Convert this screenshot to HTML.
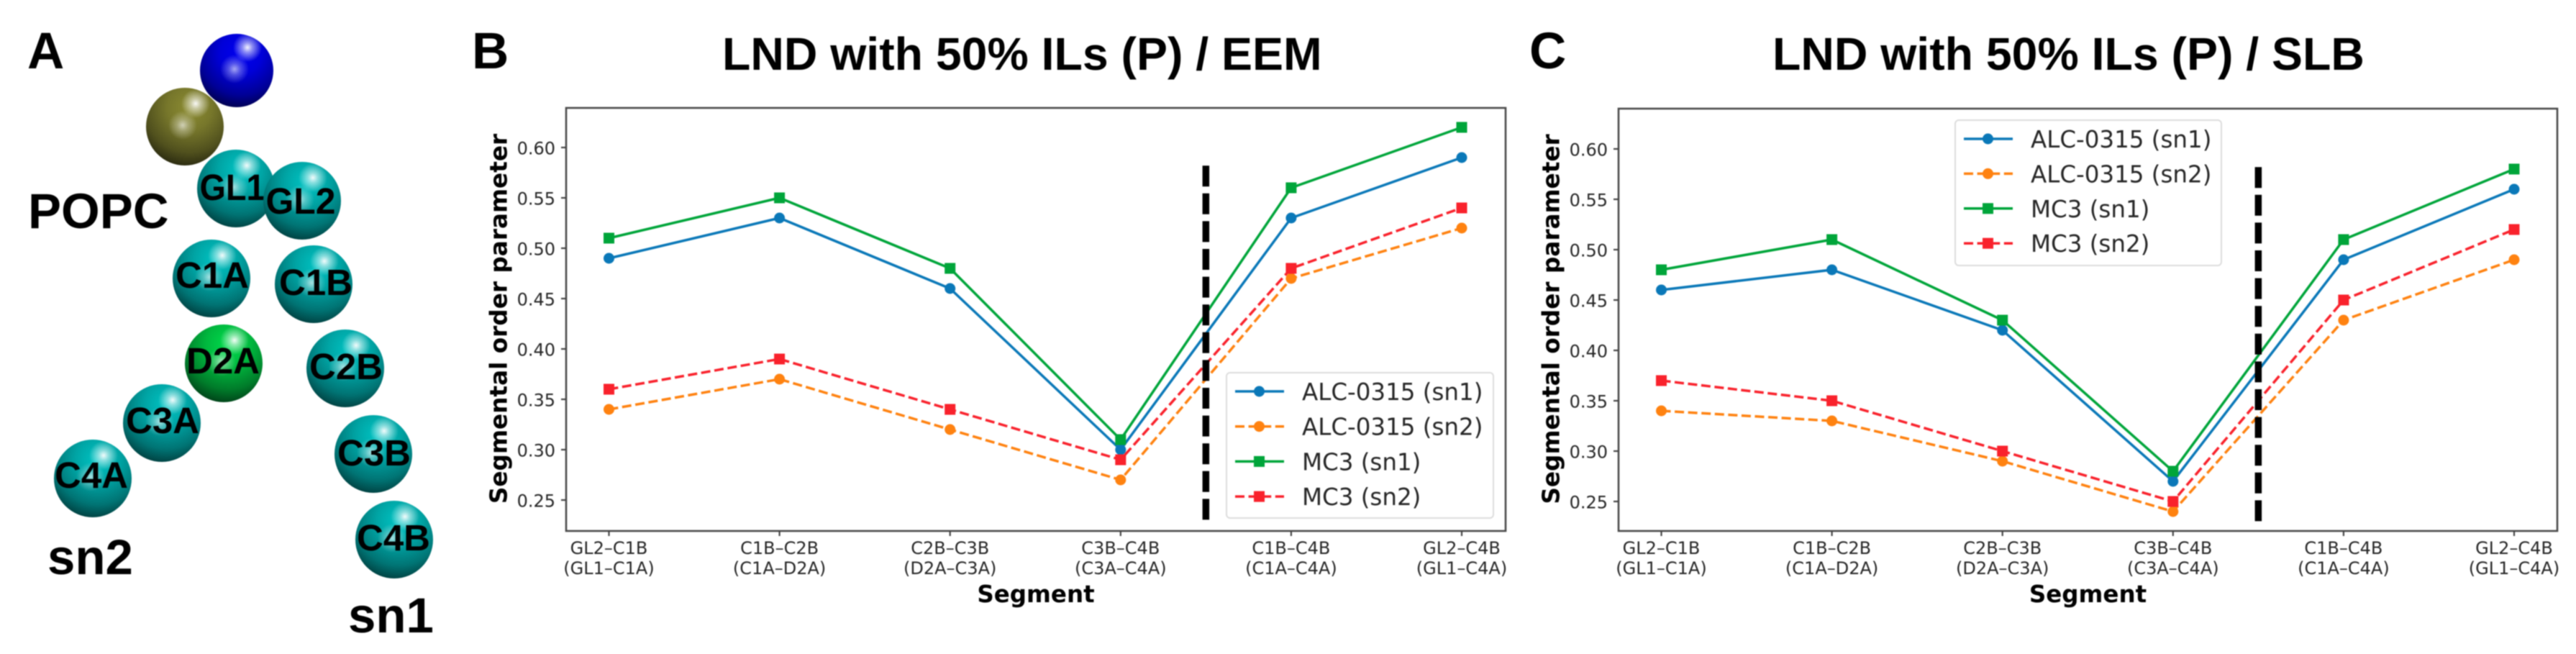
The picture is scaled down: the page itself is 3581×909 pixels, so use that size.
<!DOCTYPE html>
<html lang="en">
<head>
<meta charset="utf-8">
<title>LND with 50% ILs segmental order parameter</title>
<style>
html,body{margin:0;padding:0;background:#fff;}
body{width:3581px;height:909px;overflow:hidden;}
svg{display:block;filter:blur(0.85px);}
.h{font-family:"Liberation Sans",Arial,sans-serif;font-weight:bold;fill:#000;}
.d{font-family:"DejaVu Sans",sans-serif;fill:#262626;}
.db{font-family:"DejaVu Sans",sans-serif;font-weight:bold;fill:#000;}
.b{font-family:"Liberation Sans",Arial,sans-serif;font-weight:bold;fill:#000;font-size:51px;text-anchor:middle;}
</style>
</head>
<body>
<svg id="figure" xmlns="http://www.w3.org/2000/svg" width="3581" height="909" viewBox="0 0 3581 909">
<defs>
<radialGradient id="teal" cx="0.56" cy="0.26" r="0.82">
<stop offset="0" stop-color="#00c4c4"/><stop offset="0.35" stop-color="#00a4a4"/><stop offset="0.7" stop-color="#007474"/><stop offset="0.9" stop-color="#004646"/><stop offset="1" stop-color="#001010"/>
</radialGradient>
<radialGradient id="green" cx="0.56" cy="0.26" r="0.82">
<stop offset="0" stop-color="#00dc4c"/><stop offset="0.35" stop-color="#00b83e"/><stop offset="0.7" stop-color="#007c2a"/><stop offset="0.9" stop-color="#00481a"/><stop offset="1" stop-color="#001006"/>
</radialGradient>
<radialGradient id="olive" cx="0.56" cy="0.26" r="0.82">
<stop offset="0" stop-color="#8c8c32"/><stop offset="0.35" stop-color="#77772b"/><stop offset="0.7" stop-color="#50501d"/><stop offset="0.9" stop-color="#2e2e11"/><stop offset="1" stop-color="#060602"/>
</radialGradient>
<radialGradient id="blue" cx="0.56" cy="0.26" r="0.82">
<stop offset="0" stop-color="#0000f0"/><stop offset="0.35" stop-color="#0000d8"/><stop offset="0.7" stop-color="#000096"/><stop offset="0.9" stop-color="#000056"/><stop offset="1" stop-color="#000012"/>
</radialGradient>
<radialGradient id="glow"><stop offset="0" stop-color="#fff" stop-opacity="0.95"/><stop offset="0.35" stop-color="#fff" stop-opacity="0.55"/><stop offset="1" stop-color="#fff" stop-opacity="0"/></radialGradient>
<radialGradient id="glowSoft"><stop offset="0" stop-color="#fff" stop-opacity="0.65"/><stop offset="0.4" stop-color="#fff" stop-opacity="0.32"/><stop offset="1" stop-color="#fff" stop-opacity="0"/></radialGradient>
<g id="shine"><circle cx="15" cy="-32" r="20" fill="url(#glow)"/><circle cx="-3" cy="-2" r="20" fill="url(#glowSoft)"/></g>
</defs>

<text class="h" x="38" y="95" font-size="71">A</text>
<text class="h" x="656" y="95" font-size="71">B</text>
<text class="h" x="2126" y="95" font-size="71">C</text>
<text class="h" x="39" y="317" font-size="69">POPC</text>
<text class="h" x="66" y="798" font-size="69">sn2</text>
<text class="h" x="484" y="879" font-size="69">sn1</text>

<g>
<g transform="translate(329,98)"><circle r="51" fill="url(#blue)"/><use href="#shine"/></g>
<g transform="translate(257,176)"><circle r="54" fill="url(#olive)"/><use href="#shine"/></g>
<g transform="translate(328,262)"><circle r="54" fill="url(#teal)"/><use href="#shine"/><text class="b" x="-5" y="16" textLength="91" lengthAdjust="spacingAndGlyphs">GL1</text></g>
<g transform="translate(420,279)"><circle r="54" fill="url(#teal)"/><use href="#shine"/><text class="b" x="-2" y="18" textLength="97" lengthAdjust="spacingAndGlyphs">GL2</text></g>
<g transform="translate(294,387)"><circle r="54" fill="url(#teal)"/><use href="#shine"/><text class="b" x="1" y="13">C1A</text></g>
<g transform="translate(436,395)"><circle r="54" fill="url(#teal)"/><use href="#shine"/><text class="b" x="3" y="15">C1B</text></g>
<g transform="translate(311,505)"><circle r="54" fill="url(#green)"/><use href="#shine"/><text class="b" x="-1" y="14">D2A</text></g>
<g transform="translate(480,512)"><circle r="54" fill="url(#teal)"/><use href="#shine"/><text class="b" x="1" y="15">C2B</text></g>
<g transform="translate(225,588)"><circle r="54" fill="url(#teal)"/><use href="#shine"/><text class="b" x="1" y="14">C3A</text></g>
<g transform="translate(519,631)"><circle r="54" fill="url(#teal)"/><use href="#shine"/><text class="b" x="1" y="16">C3B</text></g>
<g transform="translate(129,665)"><circle r="54" fill="url(#teal)"/><use href="#shine"/><text class="b" x="-2" y="13">C4A</text></g>
<g transform="translate(548,750)"><circle r="54" fill="url(#teal)"/><use href="#shine"/><text class="b" x="-1" y="15">C4B</text></g>
</g>

<text class="h" x="1004" y="97" font-size="64.4">LND with 50% ILs (P) / EEM</text>
<text class="h" x="2464" y="97" font-size="64.4">LND with 50% ILs (P) / SLB</text>
<g id="chart-b"></g>
<g id="chart-c"></g>
</svg>

<script>
// Chart data
const segmentsSn1 = ["GL2\u2013C1B", "C1B\u2013C2B", "C2B\u2013C3B", "C3B\u2013C4B", "C1B\u2013C4B", "GL2\u2013C4B"];
const segmentsSn2 = ["(GL1\u2013C1A)", "(C1A\u2013D2A)", "(D2A\u2013C3A)", "(C3A\u2013C4A)", "(C1A\u2013C4A)", "(GL1\u2013C4A)"];
const yTickValues = [0.25, 0.30, 0.35, 0.40, 0.45, 0.50, 0.55, 0.60];
const seriesNames = ["ALC-0315 (sn1)", "ALC-0315 (sn2)", "MC3 (sn1)", "MC3 (sn2)"];
const separatorPosition = 3.5;
const separatorTopValue = 0.582;
const separatorBottomValue = 0.23;

const eemAlcSn1 = [0.49, 0.53, 0.46, 0.30, 0.53, 0.59];
const eemAlcSn2 = [0.34, 0.37, 0.32, 0.27, 0.47, 0.52];
const eemMc3Sn1 = [0.51, 0.55, 0.48, 0.31, 0.56, 0.62];
const eemMc3Sn2 = [0.36, 0.39, 0.34, 0.29, 0.48, 0.54];

const slbAlcSn1 = [0.46, 0.48, 0.42, 0.27, 0.49, 0.56];
const slbAlcSn2 = [0.34, 0.33, 0.29, 0.24, 0.43, 0.49];
const slbMc3Sn1 = [0.48, 0.51, 0.43, 0.28, 0.51, 0.58];
const slbMc3Sn2 = [0.37, 0.35, 0.30, 0.25, 0.45, 0.52];

const NS = "http://www.w3.org/2000/svg";
const seriesStyles = [
  {color: "#0a78b8", dashed: false, marker: "circle"},
  {color: "#ff8210", dashed: true, marker: "circle"},
  {color: "#00a53a", dashed: false, marker: "square"},
  {color: "#f9222c", dashed: true, marker: "square"}
];

function make(parent, tag, attrs, text) {
  const el = document.createElementNS(NS, tag);
  for (const k in attrs) el.setAttribute(k, attrs[k]);
  if (text !== undefined) el.textContent = text;
  parent.appendChild(el);
  return el;
}

function drawMarker(parent, kind, cx, cy, color) {
  if (kind === "circle") return make(parent, "circle", {cx: cx, cy: cy, r: 7.5, fill: color});
  return make(parent, "rect", {x: cx - 7.5, y: cy - 7.5, width: 15, height: 15, fill: color});
}

function drawChart(root, box, data, legendBox) {
  const xScale = i => box.x0 + box.step * i;
  const yScale = v => box.y60 + (0.6 - v) * 1400;

  // frame
  const frame = make(root, "rect", {x: box.left, y: box.top, width: box.right - box.left, height: box.bottom - box.top, fill: "#fff", stroke: "#4a4a4a", "stroke-width": 2.6});
  
  

  // y axis
  yTickValues.forEach(v => {
    const tick = make(root, "line", {x1: box.left - 7, x2: box.left, y1: yScale(v), y2: yScale(v), stroke: "#444", "stroke-width": 2.2});
    
    
    const label = make(root, "text", {class: "d", x: box.left - 15, y: yScale(v) + 9.5, "font-size": 24, "text-anchor": "end"}, v.toFixed(2));
    
    
  });
  const yTitle = make(root, "text", {class: "db", transform: "translate(" + (box.left - 82.5) + "," + ((box.top + box.bottom) / 2 - 1) + ") rotate(-90)", "font-size": 32.7, "text-anchor": "middle"}, "Segmental order parameter");
  
  

  // x axis
  segmentsSn1.forEach((name, i) => {
    const tick = make(root, "line", {x1: xScale(i), x2: xScale(i), y1: box.bottom, y2: box.bottom + 7, stroke: "#444", "stroke-width": 2.2});
    
    
    const top = make(root, "text", {class: "d", x: xScale(i), y: 770, "font-size": 24, "text-anchor": "middle"}, name);
    
    
    const bottom = make(root, "text", {class: "d", x: xScale(i), y: 798, "font-size": 24, "text-anchor": "middle"}, segmentsSn2[i]);
    
    
  });
  const xTitle = make(root, "text", {class: "db", x: (box.left + box.right) / 2, y: 837, "font-size": 32.5, "text-anchor": "middle"}, "Segment");
  
  

  // series
  data.forEach((values, s) => {
    const style = seriesStyles[s];
    const group = make(root, "g", {});
    
    
    const pts = values.map((v, i) => xScale(i) + "," + yScale(v)).join(" ");
    const attrs = {points: pts, fill: "none", stroke: style.color, "stroke-width": 3.5, "stroke-linejoin": "round"};
    if (style.dashed) attrs["stroke-dasharray"] = "13 5.6";
    make(group, "polyline", attrs);
    values.forEach((v, i) => {
      const mark = drawMarker(group, style.marker, xScale(i), yScale(v), style.color);
      
      
    });
  });

  // separator
  const sep = make(root, "line", {x1: xScale(separatorPosition), x2: xScale(separatorPosition), y1: yScale(separatorTopValue), y2: yScale(separatorBottomValue), stroke: "#000", "stroke-width": 9.5, "stroke-dasharray": "29 9.6"});
  
  

  // legend
  const legend = make(root, "g", {});
  
  
  make(legend, "rect", {x: legendBox.x, y: legendBox.y, width: legendBox.w, height: legendBox.h, rx: 5, ry: 5, fill: "#fff", "fill-opacity": 0.9, stroke: "#dcdcdc", "stroke-width": 2});
  seriesNames.forEach((name, s) => {
    const style = seriesStyles[s];
    const rowY = legendBox.firstRow + legendBox.rowStep * s;
    const entry = make(legend, "g", {});
    
    
    const attrs = {x1: legendBox.x + 12, x2: legendBox.x + 80, y1: rowY, y2: rowY, stroke: style.color, "stroke-width": 3.5};
    if (style.dashed) attrs["stroke-dasharray"] = "13 5.6";
    make(entry, "line", attrs);
    drawMarker(entry, style.marker, legendBox.x + 45.5, rowY, style.color);
    make(entry, "text", {class: "d", x: legendBox.x + 105, y: rowY + 12, "font-size": 32.5}, name);
  });
}

drawChart(document.getElementById("chart-b"),
  {left: 787, right: 2093, top: 150, bottom: 738, x0: 846.5, step: 237.1, y60: 205},
  [eemAlcSn1, eemAlcSn2, eemMc3Sn1, eemMc3Sn2],
  {x: 1705, y: 518, w: 371, h: 202, firstRow: 544, rowStep: 48.7});

drawChart(document.getElementById("chart-c"),
  {left: 2250, right: 3555, top: 151, bottom: 738, x0: 2309.5, step: 237.1, y60: 207},
  [slbAlcSn1, slbAlcSn2, slbMc3Sn1, slbMc3Sn2],
  {x: 2718, y: 167, w: 370, h: 202, firstRow: 193, rowStep: 48.4});
</script>
</body>
</html>
